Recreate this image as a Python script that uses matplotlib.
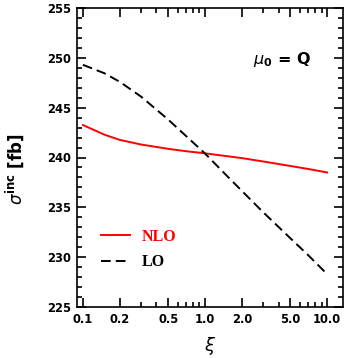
import numpy as np
import matplotlib
matplotlib.use("Agg")
import matplotlib.pyplot as plt
from matplotlib.ticker import FixedLocator, NullFormatter, MultipleLocator

xi = [0.1, 0.15, 0.2, 0.3, 0.5, 0.7, 1.0, 1.5, 2.0, 3.0, 5.0, 7.0, 10.0]
nlo = [243.26, 242.29, 241.77, 241.3, 240.87, 240.63, 240.42, 240.14, 239.94, 239.6, 239.15, 238.85, 238.5]
lo = [249.3, 248.45, 247.6, 246.1, 243.8, 242.15, 240.4, 238.2, 236.66, 234.5, 231.9, 230.2, 228.3]
xticks = [0.1, 0.2, 0.5, 1.0, 2.0, 5.0, 10.0]
xticklabels = ["0.1", "0.2", "0.5", "1.0", "2.0", "5.0", "10.0"]
yticks = [225, 230, 235, 240, 245, 250, 255]

fig = plt.figure(figsize=(3.51, 3.58), dpi=100)
W, H = 351, 358
x0, x1, y0, y1 = 77, 343, 8, 307
ax = fig.add_axes([x0 / W, 1 - y1 / H, (x1 - x0) / W, (y1 - y0) / H])

ax.plot(xi, nlo, color="red", lw=1.4, label="NLO")
ax.plot(xi, lo, color="black", lw=1.4, dashes=(5, 2.6), label="LO")

ax.set_xscale("log")
ax.set_xlim(0.0894, 13.5)
ax.set_ylim(225, 255)
ax.xaxis.set_major_locator(FixedLocator(xticks))
ax.set_xticklabels(xticklabels)
minor = [v * d for d in (0.1, 1.0) for v in (3, 4, 6, 7, 8, 9)]
ax.xaxis.set_minor_locator(FixedLocator(minor))
ax.xaxis.set_minor_formatter(NullFormatter())
ax.set_yticks(yticks)
ax.yaxis.set_minor_locator(MultipleLocator(1))

fp = matplotlib.font_manager.FontProperties(family="DejaVu Sans", weight="bold", size=8.3)
for lab in ax.get_xticklabels() + ax.get_yticklabels():
    lab.set_fontproperties(fp)

ax.tick_params(which="both", direction="in", top=True, right=True, width=1.2, pad=4.5)
ax.tick_params(which="major", length=6.5)
ax.tick_params(which="minor", length=3.4)
for s in ax.spines.values():
    s.set_linewidth(1.2)

ax.set_xlabel(r"$\xi$", fontsize=13, labelpad=6)
ax.set_ylabel(r"$\sigma^{\mathbf{inc}}$ [fb]", fontsize=12, fontweight="bold",
              family="DejaVu Sans")
ax.yaxis.set_label_coords(-0.19, 0.46)

ax.text(0.662, 0.813, r"$\mu_{\mathbf{0}}$ = Q", transform=ax.transAxes, fontsize=11.5,
        fontweight="bold", family="DejaVu Sans", va="baseline")

leg = ax.legend(loc="upper left", bbox_to_anchor=((101 - x0) / (x1 - x0), (y1 - 229) / (y1 - y0)),
                frameon=False, borderpad=0, borderaxespad=0,
                prop=dict(family="Liberation Serif", weight="bold", size=11.5),
                handlelength=1.8, handletextpad=0.75, labelspacing=0.58)
for t, c in zip(leg.get_texts(), ["red", "black"]):
    t.set_color(c)

fig.savefig("out.png", dpi=100)
